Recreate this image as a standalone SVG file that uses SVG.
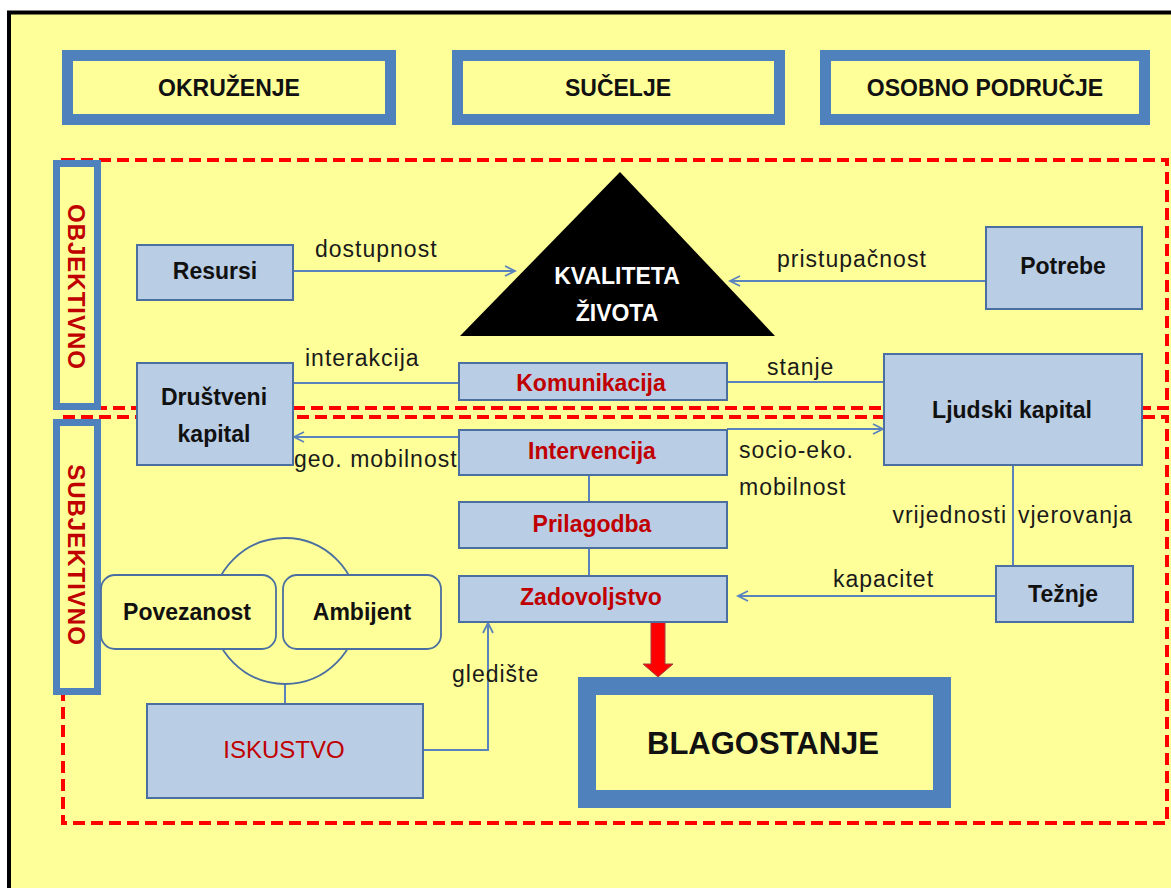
<svg xmlns="http://www.w3.org/2000/svg" width="1171" height="888" viewBox="0 0 1171 888">
<style>
.hdr{fill:#FFFF99;stroke:#4F81BD;stroke-width:11}
.side{fill:#FFFF99;stroke:#4F81BD;stroke-width:7}
.node{fill:#B9CDE5;stroke:#4A6FA0;stroke-width:2}
.rnd{fill:#FFFF99;stroke:#4A6FA0;stroke-width:1.8}
.dash{fill:none;stroke:#FF0000;stroke-width:4;stroke-dasharray:12 6}
.con{fill:none;stroke:#5A83BE;stroke-width:2}
.t{font-family:"Liberation Sans",Arial,sans-serif;text-anchor:middle}
.ht{font-size:23px;font-weight:bold;fill:#111}
.nt{font-size:23px;font-weight:bold;fill:#111}
.rt{font-size:23px;font-weight:bold;fill:#C00000}
.vt{font-size:24px;font-weight:bold;fill:#C00000;letter-spacing:1px}
.lb{font-family:"Liberation Sans",Arial,sans-serif;font-size:23px;fill:#1a1a1a;letter-spacing:1px}
</style>
<defs>
<marker id="ah" markerUnits="userSpaceOnUse" markerWidth="14" markerHeight="14" refX="11" refY="6" orient="auto">
<path d="M1,1 L11,6 L1,11" fill="none" stroke="#5A83BE" stroke-width="1.8"/>
</marker>
</defs>
<rect x="0" y="0" width="1171" height="888" fill="#FFFFFF"/>
<rect x="9" y="12.5" width="1200" height="900" fill="#FFFF99" stroke="#000" stroke-width="4"/>

<g id="regions">
<rect class="dash" x="63" y="160" width="1104" height="248"/>
<rect class="dash" x="63" y="417" width="1104" height="406"/>
</g>

<g id="header-okruzenje">
<rect class="hdr" x="67.5" y="55.5" width="323" height="64"/>
<text class="t ht" x="229" y="96">OKRUŽENJE</text>
</g>
<g id="header-sucelje">
<rect class="hdr" x="457.5" y="55.5" width="322" height="64"/>
<text class="t ht" x="618" y="96">SUČELJE</text>
</g>
<g id="header-osobno">
<rect class="hdr" x="825.5" y="55.5" width="319" height="64"/>
<text class="t ht" x="985" y="96">OSOBNO PODRUČJE</text>
</g>

<g id="side-objektivno">
<rect class="side" x="56.5" y="163.5" width="41" height="243"/>
<text class="t vt" transform="translate(76,287) rotate(90)" x="0" y="8.5">OBJEKTIVNO</text>
</g>
<g id="side-subjektivno">
<rect class="side" x="56.5" y="422.5" width="41" height="269"/>
<text class="t vt" transform="translate(76,555) rotate(90)" x="0" y="8.5">SUBJEKTIVNO</text>
</g>

<g id="connectors">
<line class="con" x1="293" y1="271" x2="515" y2="271" marker-end="url(#ah)"/>
<line class="con" x1="986" y1="281" x2="730" y2="281" marker-end="url(#ah)"/>
<line class="con" x1="293" y1="383" x2="459" y2="383"/>
<line class="con" x1="727" y1="382" x2="884" y2="382"/>
<line class="con" x1="727" y1="429" x2="883" y2="429" marker-end="url(#ah)"/>
<line class="con" x1="459" y1="437" x2="294" y2="437" marker-end="url(#ah)"/>
<line class="con" x1="589" y1="475" x2="589" y2="502"/>
<line class="con" x1="589" y1="548" x2="589" y2="576"/>
<line class="con" x1="1013" y1="465" x2="1013" y2="566"/>
<line class="con" x1="995" y1="596" x2="738" y2="596" marker-end="url(#ah)"/>
<polyline class="con" points="423,750 488,750 488,623" marker-end="url(#ah)"/>
<line class="con" x1="285" y1="685" x2="285" y2="704"/>
<circle cx="285" cy="611" r="73" fill="none" stroke="#4A6FA0" stroke-width="1.8"/>
<polygon points="651,622 665,622 665,664 673,664 658,677 643,664 651,664" fill="#FF0000" stroke="#A04040" stroke-width="1"/>
</g>

<g id="kvaliteta">
<polygon points="620,172 775,336 460,336" fill="#000"/>
<text class="t" x="617" y="284" font-size="23" font-weight="bold" fill="#FFF">KVALITETA</text>
<text class="t" x="617" y="321" font-size="23" font-weight="bold" fill="#FFF">ŽIVOTA</text>
</g>

<g id="resursi">
<rect class="node" x="137" y="245" width="156" height="55"/>
<text class="t nt" x="215" y="279">Resursi</text>
</g>
<g id="potrebe">
<rect class="node" x="986" y="227" width="156" height="82"/>
<text class="t nt" x="1063" y="274">Potrebe</text>
</g>
<g id="drustveni">
<rect class="node" x="137" y="363" width="156" height="102"/>
<text class="t nt" x="214" y="405">Društveni</text>
<text class="t nt" x="214" y="442">kapital</text>
</g>
<g id="komunikacija">
<rect class="node" x="459" y="363" width="268" height="37"/>
<text class="t rt" x="591" y="391">Komunikacija</text>
</g>
<g id="intervencija">
<rect class="node" x="459" y="430" width="268" height="45"/>
<text class="t rt" x="592" y="459">Intervencija</text>
</g>
<g id="prilagodba">
<rect class="node" x="459" y="502" width="268" height="46"/>
<text class="t rt" x="592" y="532">Prilagodba</text>
</g>
<g id="zadovoljstvo">
<rect class="node" x="459" y="576" width="268" height="46"/>
<text class="t rt" x="591" y="605">Zadovoljstvo</text>
</g>
<g id="ljudski">
<rect class="node" x="884" y="354" width="258" height="111"/>
<text class="t nt" x="1012" y="418">Ljudski kapital</text>
</g>
<g id="teznje">
<rect class="node" x="996" y="566" width="137" height="56"/>
<text class="t nt" x="1063" y="602">Težnje</text>
</g>
<g id="povezanost">
<rect class="rnd" x="101" y="575" width="175" height="74" rx="14"/>
<text class="t nt" x="187" y="620">Povezanost</text>
</g>
<g id="ambijent">
<rect class="rnd" x="283" y="575" width="158" height="74" rx="14"/>
<text class="t nt" x="362" y="620">Ambijent</text>
</g>
<g id="iskustvo">
<rect class="node" x="147" y="704" width="276" height="94"/>
<text class="t" x="284" y="758" font-size="24" fill="#C00000">ISKUSTVO</text>
</g>
<g id="blagostanje">
<rect x="587" y="686" width="355" height="113" fill="#FFFF99" stroke="#4F81BD" stroke-width="18"/>
<text class="t" x="763" y="754" font-size="31" font-weight="bold" fill="#111">BLAGOSTANJE</text>
</g>

<g id="labels">
<text class="lb" x="315" y="257">dostupnost</text>
<text class="lb" x="777" y="267">pristupačnost</text>
<text class="lb" x="305" y="366">interakcija</text>
<text class="lb" x="767" y="375">stanje</text>
<text class="lb" x="294" y="467">geo. mobilnost</text>
<text class="lb" x="739" y="458">socio-eko.</text>
<text class="lb" x="739" y="495">mobilnost</text>
<text class="lb" x="1007" y="523" text-anchor="end">vrijednosti</text>
<text class="lb" x="1018" y="523">vjerovanja</text>
<text class="lb" x="833" y="587">kapacitet</text>
<text class="lb" x="452" y="682">gledište</text>
</g>
</svg>
